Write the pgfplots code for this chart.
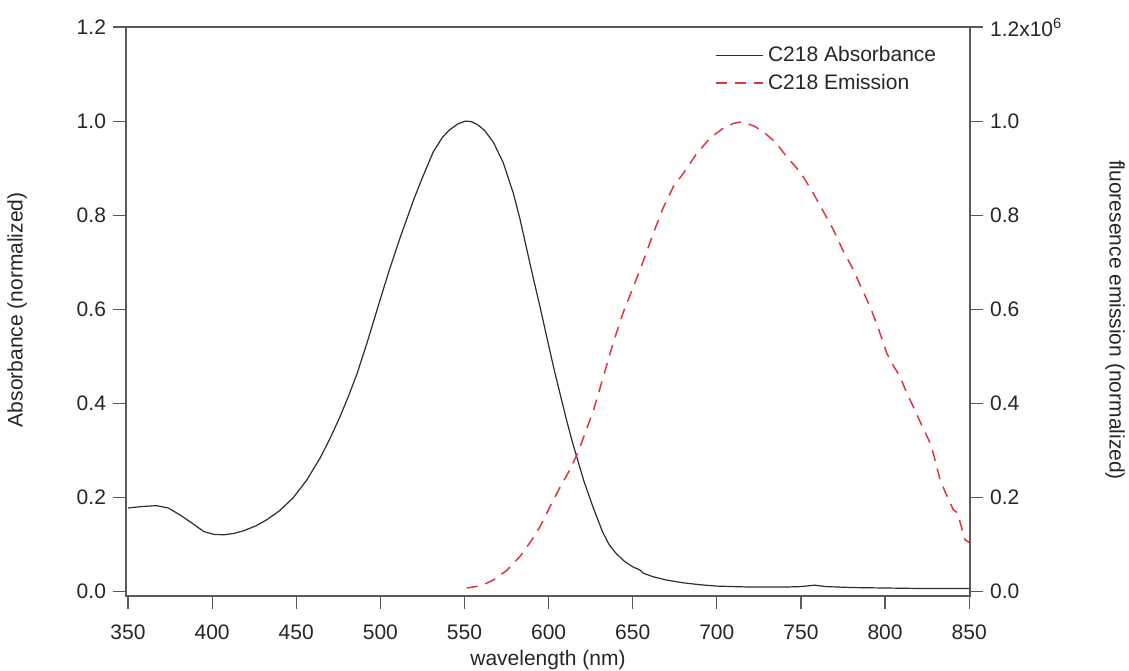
\documentclass[border=0pt]{standalone}
\usepackage{fontspec}
\setmainfont{Liberation Sans}
\usepackage{pgfplots}
\pgfplotsset{compat=1.18}

\definecolor{axisgray}{RGB}{90,90,90}
\definecolor{absline}{RGB}{45,45,45}
\definecolor{emred}{RGB}{220,55,65}

\pgfplotstableread{
nm    abs
350   0.178
358   0.181
367   0.183
374   0.178
381   0.163
388   0.146
395   0.128
401   0.122
407   0.121
413   0.124
419   0.130
426   0.140
432.5 0.153
440   0.172
448   0.199
456   0.236
464   0.283
470   0.325
476   0.372
481   0.415
486   0.462
492   0.528
500   0.622
505   0.680
511.7 0.752
520   0.835
525   0.880
531.5 0.935
537   0.966
541   0.981
546   0.994
550.4 1.000
554   0.999
558   0.992
562   0.980
567.2 0.955
573   0.912
579.1 0.846
583   0.792
587   0.728
591   0.665
595   0.604
599   0.540
602.9 0.478
607   0.418
610.8 0.363
614   0.320
616.7 0.287
621   0.235
626.6 0.178
632   0.128
636   0.100
640   0.082
645   0.065
650   0.053
654.4 0.046
656   0.040
662   0.032
670   0.025
680   0.019
690   0.015
700   0.012
720   0.010
740   0.010
750   0.011
758   0.014
765   0.011
780   0.009
800   0.008
820   0.007
850   0.007
}\absdata

\pgfplotstableread{
nm    em
551.4 0.008
560   0.013
567.2 0.025
575   0.045
583   0.075
590   0.110
595   0.139
600   0.175
606.8 0.222
612   0.255
616.7 0.290
621   0.330
626.6 0.385
632   0.450
638.5 0.530
644   0.590
650.4 0.648
656   0.700
662.3 0.762
668   0.815
674.2 0.861
680.1 0.889
688   0.931
696   0.964
703   0.983
709.8 0.995
714   0.998
717.8 0.995
722   0.990
727.7 0.977
735   0.955
741.6 0.924
750   0.890
757.4 0.846
763   0.810
769.3 0.769
775   0.725
781.2 0.684
786   0.645
791.1 0.606
796   0.560
801   0.507
805   0.480
808.9 0.457
812   0.430
816.8 0.393
821   0.360
826.8 0.316
829   0.290
832.7 0.238
836   0.210
840.6 0.174
843   0.168
847.6 0.110
850   0.105
}\emdata

\begin{document}
\begin{tikzpicture}[font=\fontsize{10.5pt}{12.5pt}\selectfont]
\path[use as bounding box] (-63pt,-37pt) rectangle (501.5pt,298pt);

\pgfplotsset{
  common/.style={
    scale only axis,
    width=422pt, height=284.5pt,
    at={(0,0)}, anchor=south west,
    xmin=348.8, xmax=850.5,
    ymin=-0.009, ymax=1.2,
    tick align=outside,
    major tick length=6.5pt,
    every tick/.style={axisgray, line width=0.6pt},
    axis line style={axisgray, line width=0.6pt},
    ytick={0,0.2,...,1.2},
    /pgf/number format/assume math mode=true,
    tick label style={black!85},
  }
}

\begin{axis}[
  common,
  xtick={350,400,...,850},
  xtick pos=bottom, ytick pos=left,
  yticklabel style={/pgf/number format/.cd, fixed, fixed zerofill, precision=1},
  xticklabel style={yshift=-4.5pt, /pgf/number format/.cd, fixed, 1000 sep={}},
  xlabel={wavelength (nm)},
  ylabel={Absorbance (normalized)},
  every axis x label/.style={at={(axis description cs:0.5,-0.1125)}, anchor=center, black!85},
  every axis y label/.style={at={(axis description cs:-0.129,0.503)}, rotate=90, anchor=center, black!85},
  legend style={draw=none, fill=none, at={(axis description cs:0.69,0.98)}, anchor=north west,
    row sep=0.5pt, font=\fontsize{10.5pt}{12.5pt}\selectfont, text=black!85},
  legend cell align=left,
  legend image code/.code={\draw[#1] (0cm,0cm) -- (0.75cm,0cm); \path (0cm,0cm) -- (0.84cm,0cm);},
]
\addplot[absline, line width=0.6pt] table[x=nm, y=abs] {\absdata};
\addlegendentry{C218 Absorbance}
\addplot[emred, line width=0.75pt, dash pattern=on 5.5pt off 4pt] table[x=nm, y=em] {\emdata};
\addlegendentry{C218 Emission}
\end{axis}

\begin{axis}[
  common,
  axis x line=none,
  axis y line*=right,
  yticklabels={0.0,0.2,0.4,0.6,0.8,1.0,{1.2x10\textsuperscript{6}}},
  ylabel={fluoresence emission (normalized)},
  every axis y label/.style={at={(axis description cs:1.172,0.485)}, rotate=-90, anchor=center, black!85},
]
\addplot[draw=none] coordinates {(350,0)};
\end{axis}
\end{tikzpicture}
\end{document}
